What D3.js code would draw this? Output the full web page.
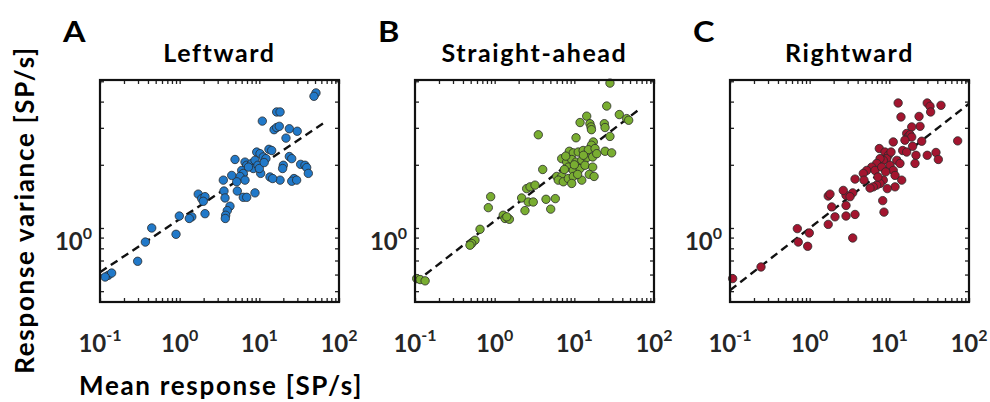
<!DOCTYPE html>
<html>
<head>
<meta charset="utf-8">
<script src="https://cdn.jsdelivr.net/npm/d3@7"></script>
<style>
  body { margin: 0; background: #fff; }
  text { font-family: Lato, "Open Sans", sans-serif; font-weight: bold; }
</style>
</head>
<body>
<svg id="chart" width="990" height="402"></svg>
<script>
// mean response vs response variance, [x, y] per neuron
var leftward = [
  [51.4, 4.40], [48.5, 4.24], [16.5, 3.57], [18.2, 3.57], [10.9, 3.23], [15.3, 2.94], [16.5, 3.01], [17.8, 3.05],
  [23.8, 2.97], [29.9, 2.89], [21.6, 2.68], [13.2, 2.37], [14.3, 2.34], [9.27, 2.30], [10.2, 2.26], [11.2, 2.18],
  [12.1, 2.14], [23.8, 2.19], [25.5, 2.14], [20.0, 1.99], [19.6, 1.92], [33.0, 2.01], [37.4, 1.99], [39.3, 1.94],
  [41.2, 1.82], [27.2, 1.72], [25.5, 1.67], [29.4, 1.69], [18.2, 1.69], [13.6, 1.75], [14.7, 1.72], [10.4, 1.82],
  [6.61, 2.06], [6.94, 1.99], [4.95, 2.12], [8.02, 2.03], [8.40, 1.92], [8.82, 2.10], [6.01, 1.88], [6.29, 1.82],
  [5.72, 1.76], [6.61, 1.69], [5.20, 1.66], [4.50, 1.78], [3.53, 1.69], [5.29, 1.50], [6.29, 1.40], [6.94, 1.40],
  [8.82, 1.47], [3.60, 1.50], [3.71, 1.39], [4.28, 1.27], [3.96, 1.21], [3.78, 1.15], [3.74, 1.11], [1.71, 1.45],
  [1.89, 1.38], [2.08, 1.41], [1.98, 1.34], [2.08, 1.17], [1.42, 1.13], [1.32, 1.11], [0.99, 1.14], [0.90, 0.933],
  [0.446, 1.00], [0.371, 0.857], [0.297, 0.694], [0.127, 0.595], [0.140, 0.610], [0.116, 0.584],
  [9.6, 1.99], [10.0, 1.92], [7.3, 1.95], [11.5, 2.05]
];
var straightAhead = [
  [28.0, 4.90], [25.5, 3.81], [36.7, 3.47], [45.4, 3.32], [48.1, 3.26], [14.3, 3.41], [11.8, 3.18], [15.7, 3.14],
  [16.2, 3.03], [16.4, 2.94], [23.8, 3.14], [24.3, 3.01], [28.0, 2.73], [10.5, 2.69], [3.53, 2.78], [17.3, 2.57],
  [16.4, 2.48], [8.65, 2.32], [9.70, 2.28], [11.2, 2.30], [12.9, 2.34], [15.0, 2.36], [18.2, 2.39], [24.3, 2.32],
  [29.4, 2.28], [6.94, 2.14], [8.02, 2.06], [9.27, 2.12], [10.5, 2.06], [12.4, 2.10], [14.3, 2.16], [17.0, 2.18],
  [19.1, 2.26], [8.40, 1.95], [9.70, 1.88], [11.8, 1.92], [13.6, 1.99], [17.0, 1.95], [4.01, 1.90], [6.01, 1.76],
  [6.94, 1.76], [6.29, 1.69], [7.27, 1.66], [8.40, 1.72], [9.70, 1.76], [9.27, 1.63], [12.4, 1.69], [15.4, 1.80],
  [17.7, 1.76], [2.52, 1.54], [2.78, 1.57], [3.21, 1.60], [2.18, 1.39], [2.64, 1.33], [3.05, 1.33], [2.40, 1.21],
  [4.41, 1.37], [5.77, 1.38], [5.05, 1.23], [0.891, 1.41], [0.832, 1.25], [1.28, 1.15], [1.35, 1.11], [1.53, 1.10],
  [1.42, 1.13], [0.655, 0.986], [0.566, 0.874], [0.515, 0.843], [0.490, 0.828], [0.105, 0.574], [0.116, 0.568],
  [0.134, 0.560], [7.5, 1.90], [10.0, 2.00], [11.0, 1.80], [13.0, 2.22], [7.8, 2.20]
];
var rightward = [
  [12.9, 3.94], [29.9, 3.94], [32.4, 3.80], [33.0, 3.57], [44.5, 3.84], [14.0, 3.38], [23.6, 3.40], [24.3, 3.05],
  [19.1, 3.03], [16.5, 2.82], [17.3, 2.73], [18.2, 2.78], [19.1, 2.71], [15.7, 2.62], [25.5, 2.59], [72.1, 2.60],
  [11.2, 2.57], [19.6, 2.45], [14.7, 2.34], [16.5, 2.30], [7.48, 2.39], [21.6, 2.22], [29.9, 2.22], [38.5, 2.29],
  [41.2, 2.12], [21.0, 2.03], [8.82, 2.30], [9.70, 2.22], [9.27, 2.14], [8.40, 2.10], [7.64, 2.14], [6.94, 2.03],
  [6.01, 1.95], [5.20, 1.88], [4.71, 1.82], [6.61, 1.88], [8.02, 1.95], [10.2, 1.99], [11.2, 1.88], [11.8, 1.78],
  [12.4, 2.10], [13.6, 2.03], [14.3, 1.69], [11.8, 1.57], [9.42, 1.54], [8.40, 1.69], [7.64, 1.63], [6.94, 1.60],
  [6.29, 1.57], [5.72, 1.55], [4.81, 1.69], [3.71, 1.71], [8.26, 1.35], [8.57, 1.19], [3.47, 1.47], [2.86, 1.43],
  [2.64, 1.51], [3.21, 1.41], [1.71, 1.42], [1.80, 1.45], [1.89, 1.26], [2.86, 1.28], [2.08, 1.13], [2.86, 1.14],
  [3.71, 1.16], [1.71, 1.04], [3.47, 0.896], [0.700, 0.993], [0.989, 0.947], [0.719, 0.857], [0.944, 0.818],
  [0.245, 0.652], [0.108, 0.574], [10.5, 2.30], [9.0, 1.85], [7.2, 1.75]
];

// dashed fit lines, two end points each
var fitLeftward = [[0.1, 0.615], [66.7, 3.19]];
var fitStraight = [[0.1, 0.55], [65, 3.67]];
var fitRightward = [[0.1, 0.505], [100, 3.91]];

var titles = ["Leftward", "Straight-ahead", "Rightward"];
var letters = ["A", "B", "C"];
var colors = ["#2179c9", "#79ad31", "#a3152f"];
var xTickExps = ["-1", "0", "1", "2"];
var xTickValues = [0.1, 1, 10, 100];
var yTickValues = [1];
var yTickExps = ["0"];

var panels = [
  { data: leftward, fit: fitLeftward, left: 100 },
  { data: straightAhead, fit: fitStraight, left: 415 },
  { data: rightward, fit: fitRightward, left: 730 }
];

var svg = d3.select("#chart");
var top_ = 80, bottom = 302, w = 239;

panels.forEach(function (p, i) {
  var x = d3.scaleLog().domain([0.1, 100]).range([p.left, p.left + w]);
  var y = d3.scaleLog().domain([0.444, 5.07]).range([bottom, top_]);
  var g = svg.append("g");

  // inward ticks on all four sides (box on)
  var xt = x.ticks(), yt = y.ticks();
  var axes = [
    d3.axisBottom(x).tickValues(xt).tickSize(-4).tickFormat(""),
    d3.axisTop(x).tickValues(xt).tickSize(-4).tickFormat(""),
    d3.axisLeft(y).tickValues(yt).tickSize(-4).tickFormat(""),
    d3.axisRight(y).tickValues(yt).tickSize(-4).tickFormat("")
  ];
  var shifts = ["translate(0," + bottom + ")", "translate(0," + top_ + ")",
                "translate(" + p.left + ",0)", "translate(" + (p.left + w) + ",0)"];
  axes.forEach(function (ax, k) {
    var a = g.append("g").attr("transform", shifts[k]).call(ax);
    a.select(".domain").remove();
    a.selectAll("line").attr("stroke", "#222").attr("stroke-width", 1.3);
  });

  // fit line
  g.append("path")
    .datum(p.fit)
    .attr("d", d3.line().x(function (d) { return x(d[0]); }).y(function (d) { return y(d[1]); }))
    .attr("fill", "none").attr("stroke", "#111")
    .attr("stroke-width", 2.4).attr("stroke-dasharray", "8,5");

  g.selectAll("circle")
    .data(p.data)
    .enter()
    .append("circle")
    .attr("cx", function (d) { return x(d[0]); })
    .attr("cy", function (d) { return y(d[1]); })
    .attr("r", 4.2)
    .attr("fill", colors[i])
    .attr("stroke", "#2a2a2a")
    .attr("stroke-width", 0.8);

  // box
  g.append("rect")
    .attr("x", p.left).attr("y", top_).attr("width", w).attr("height", bottom - top_)
    .attr("fill", "none").attr("stroke", "#111").attr("stroke-width", 2.2);

  // x tick labels
  xTickValues.forEach(function (v, k) {
    var t = g.append("text")
      .attr("x", x(v)).attr("y", 352)
      .attr("text-anchor", "middle").attr("font-size", 24).attr("fill", "#262626")
      .text("10");
    t.append("tspan").attr("dy", -11).attr("font-size", 16).text(xTickExps[k]);
  });
  // y tick labels
  yTickValues.forEach(function (v, k) {
    var t = g.append("text")
      .attr("x", p.left - 8).attr("y", y(v) + 22)
      .attr("text-anchor", "end").attr("font-size", 24).attr("fill", "#262626")
      .text("10");
    t.append("tspan").attr("dy", -11).attr("font-size", 16).text(yTickExps[k]);
  });

  g.append("text")
    .attr("x", p.left + w / 2).attr("y", 62)
    .attr("text-anchor", "middle").attr("font-size", 25)
    .attr("letter-spacing", 1.6)
    .text(titles[i]);

  g.append("text")
    .attr("font-size", 29)
    .attr("transform", "translate(" + (p.left - 37) + ",42) scale(1.12,1)")
    .text(letters[i]);
});

svg.append("text")
  .attr("x", 221).attr("y", 395)
  .attr("text-anchor", "middle").attr("font-size", 26)
  .attr("letter-spacing", 1.7)
  .text("Mean response [SP/s]");

svg.append("text")
  .attr("transform", "translate(34,210) rotate(-90)")
  .attr("text-anchor", "middle").attr("font-size", 26)
  .attr("letter-spacing", 1.7)
  .text("Response variance [SP/s]");
</script>
</body>
</html>
